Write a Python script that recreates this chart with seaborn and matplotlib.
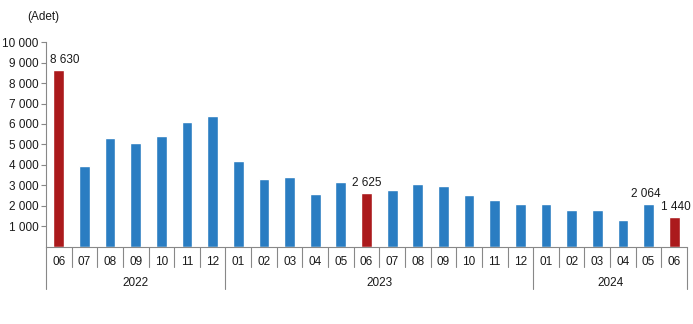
import matplotlib
matplotlib.use("Agg")
import matplotlib.pyplot as plt
import matplotlib.transforms as mtransforms
import seaborn as sns
import pandas as pd

# ---- data ----
years = ["2022", "2023", "2024"]
months_2022 = ["06", "07", "08", "09", "10", "11", "12"]
months_2023 = ["01", "02", "03", "04", "05", "06", "07", "08", "09", "10", "11", "12"]
months_2024 = ["01", "02", "03", "04", "05", "06"]
values_2022 = [8630, 3920, 5290, 5050, 5390, 6080, 6370]
values_2023 = [4170, 3330, 3380, 2550, 3140, 2625, 2790, 3040, 2940, 2500, 2300, 2060]
values_2024 = [2060, 1810, 1770, 1280, 2064, 1440]
labelled = {("2022", "06"): "8 630", ("2023", "06"): "2 625",
            ("2024", "05"): "2 064", ("2024", "06"): "1 440"}
y_ticks = [1000, 2000, 3000, 4000, 5000, 6000, 7000, 8000, 9000, 10000]

# horizontal nudges of the value labels (points)
label_dx = {("2022", "06"): 4, ("2023", "06"): 0, ("2024", "05"): -2, ("2024", "06"): 1.5}

BLUE = "#2a7dc2"
RED = "#ab1a1c"
FS = 8.5

rows = []
for yr, ms, vs in zip(years, [months_2022, months_2023, months_2024],
                      [values_2022, values_2023, values_2024]):
    for m, v in zip(ms, vs):
        rows.append({"key": f"{yr}-{m}", "year": yr, "month": m, "value": v})
df = pd.DataFrame(rows)
palette = {k: (RED if m == "06" else BLUE) for k, m in zip(df["key"], df["month"])}

sns.set_style("white")
plt.rcParams["font.family"] = ["Liberation Sans", "DejaVu Sans"]

fig = plt.figure(figsize=(6.93, 3.24), dpi=100)
ax = fig.add_axes([46 / 693, 1 - 246.5 / 324, 641 / 693, 204.2 / 324])

sns.barplot(data=df, x="key", y="value", hue="key", palette=palette,
            legend=False, width=0.42, ax=ax, saturation=1)

ax.set_ylim(0, 10000)
ax.set_xlim(-0.5, len(df) - 0.5)
ax.set_xlabel("")
ax.set_ylabel("")
ax.set_yticks(y_ticks)
ax.set_yticklabels([f"{t:,}".replace(",", " ") for t in y_ticks], fontsize=FS, color="#1a1a1a")
ax.tick_params(axis="y", length=3.5, width=0.8, color="#888888", pad=2, left=True)
ax.set_xticks(range(len(df)))
ax.set_xticklabels(df["month"], fontsize=FS, color="#1a1a1a")
ax.tick_params(axis="x", length=0, pad=7)

for s in ["top", "right"]:
    ax.spines[s].set_visible(False)
for s in ["left", "bottom"]:
    ax.spines[s].set_color("#888888")
    ax.spines[s].set_linewidth(0.8)

# separators
trans = mtransforms.blended_transform_factory(ax.transData, ax.transAxes)
axh = 204.2
year_starts = [0, len(months_2022), len(months_2022) + len(months_2023), len(df)]
for i in range(len(df) + 1):
    depth = 42.5 if i in year_starts else 20.5
    ax.plot([i - 0.5, i - 0.5], [0, -depth / axh], transform=trans,
            color="#888888", lw=0.8, clip_on=False)

# year labels
for yr, a, b in zip(years, year_starts[:-1], year_starts[1:]):
    ax.text((a + b - 1) / 2, -37 / axh, yr, transform=trans, ha="center",
            va="center", fontsize=FS, color="#1a1a1a")

# value labels
for i, r in df.iterrows():
    k = (r["year"], r["month"])
    lab = labelled.get(k)
    if lab:
        ax.annotate(lab, (i, r["value"]), xytext=(label_dx.get(k, 0), 3),
                    textcoords="offset points", ha="center", va="bottom",
                    fontsize=FS, color="#1a1a1a")

fig.text(27 / 693, 1 - 17 / 324, "(Adet)", ha="left", va="center", fontsize=FS, color="#1a1a1a")

fig.savefig("out.png", dpi=100)
